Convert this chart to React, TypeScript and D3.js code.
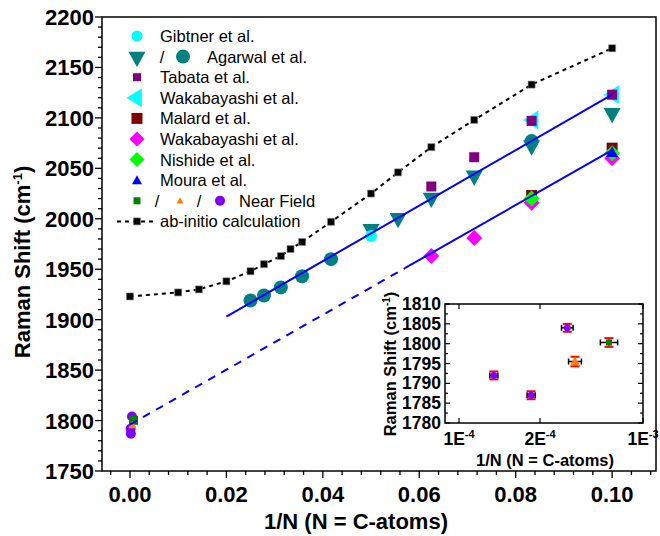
import React from 'react';
import * as d3 from 'd3';

const W = 660;
const H = 536;
const FONT = '"Liberation Sans", Arial, sans-serif';

// ab-initio calculation
const abX = [0, 0.01, 0.0143, 0.02, 0.025, 0.0278, 0.0313, 0.0333, 0.0357, 0.0417, 0.05, 0.0556, 0.0625, 0.0714, 0.0833, 0.1];
const abY = [1923, 1927, 1930, 1938, 1948, 1955, 1963, 1970, 1977, 1997, 2025, 2046, 2071, 2098, 2133, 2169];

// Agarwal et al. (circles / inverted triangles)
const agCircX = [0.025, 0.0278, 0.0313, 0.0357, 0.0417, 0.0833];
const agCircY = [1919, 1924, 1932, 1943, 1960, 2077];
const agTriX = [0.05, 0.0556, 0.0625, 0.0714, 0.0833, 0.1];
const agTriY = [1988, 1999, 2019, 2041, 2071, 2103];

const gibX = [0.05];
const gibY = [1983];
const tabX = [0.0625, 0.0714, 0.0833, 0.1];
const tabY = [2032, 2061, 2097, 2123];
const wakCyX = [0.0833, 0.1];
const wakCyY = [2098, 2123];
const malX = [0.0833, 0.1];
const malY = [2023, 2070];
const wakMgX = [0.0625, 0.0714, 0.0833, 0.1];
const wakMgY = [1963, 1981, 2016, 2060];
const nisX = [0.0833, 0.1];
const nisY = [2020, 2065];
const mouX = [0.1];
const mouY = [2066];

// Near Field
const nfCircX = [1.43e-4, 1.89e-4, 4.12e-4];
const nfCircY = [1792, 1787, 1804];
const nfCircXErr = [5e-6, 5e-6, 4.5e-5];
const nfCircYErr = [1, 1, 1];
const nfTriX = [4.72e-4];
const nfTriY = [1795.5];
const nfTriXErr = [5e-5];
const nfTriYErr = [1.2];
const nfSqX = [7.36e-4];
const nfSqY = [1800.3];
const nfSqXErr = [6.7e-5];
const nfSqYErr = [1.1];

// linear fits
const fitUpX = [0.02, 0.1];
const fitUpY = [1903, 2123];
const fitLoX = [0.057, 0.1];
const fitLoY = [1951, 2068];
const fitLoExtX = [0, 0.057];
const fitLoExtY = [1796, 1951];

const xTicks = [0, 0.02, 0.04, 0.06, 0.08, 0.1];
const yTicks = [1750, 1800, 1850, 1900, 1950, 2000, 2050, 2100, 2150, 2200];
const insetYTicks = [1780, 1785, 1790, 1795, 1800, 1805, 1810];
const insetXTicks = [1e-4, 2e-4, 1e-3];
const insetXLabels = [['1E', '-4'], ['2E', '-4'], ['1E', '-3']];

const x = d3.scaleLinear().domain([-0.0058, 0.1091]).range([102, 656]);
const y = d3.scaleLinear().domain([1750, 2200]).range([471, 17]);
const ix = d3.scaleLinear().domain([8.27e-5, 1e-4, 2e-4, 1e-3]).range([445, 459, 540, 643]);
const iy = d3.scaleLinear().domain([1780, 1810]).range([423, 304]);

const zip = (xs: number[], ys: number[]) => xs.map((v, i) => [v, ys[i]] as [number, number]);

function shape(kind: string, s: number) {
  const h = s / 2;
  switch (kind) {
    case 'circle':
      return `M${h},0A${h},${h} 0 1,1 ${-h},0A${h},${h} 0 1,1 ${h},0Z`;
    case 'square':
      return `M${-h},${-h}H${h}V${h}H${-h}Z`;
    case 'diamond':
      return `M0,${-h}L${h},0L0,${h}L${-h},0Z`;
    case 'up':
      return `M0,${-h}L${h},${h * 0.8}L${-h},${h * 0.8}Z`;
    case 'down':
      return `M0,${h}L${h},${-h * 0.8}L${-h},${-h * 0.8}Z`;
    case 'left':
      return `M${-h},0L${h * 0.8},${-h * 1.1}L${h * 0.8},${h * 1.1}Z`;
    default:
      return '';
  }
}

function Marks({ pts, kind, size, fill, stroke, sx = x, sy = y }: any) {
  const d = shape(kind, size);
  return (
    <g>
      {pts.map(([a, b]: [number, number], i: number) => (
        <path key={i} d={d} transform={`translate(${sx(a)},${sy(b)})`} fill={fill} stroke={stroke || 'none'} strokeWidth={0.6} />
      ))}
    </g>
  );
}

function ErrBars({ xs, ys, xe, ye, sx, sy }: any) {
  return (
    <g>
      {xs.map((v: number, i: number) => {
        const cx = sx(v), cy = sy(ys[i]);
        const x0 = sx(v - xe[i]), x1 = sx(v + xe[i]);
        const y0 = sy(ys[i] - ye[i]), y1 = sy(ys[i] + ye[i]);
        return (
          <g key={i}>
            <line x1={x0} x2={x1} y1={cy} y2={cy} stroke="#000" strokeWidth={1.5} />
            <line x1={x0} x2={x0} y1={cy - 3} y2={cy + 3} stroke="#000" strokeWidth={1.5} />
            <line x1={x1} x2={x1} y1={cy - 3} y2={cy + 3} stroke="#000" strokeWidth={1.5} />
            <line x1={cx} x2={cx} y1={y0} y2={y1} stroke="#ff0000" strokeWidth={1.5} />
            <line x1={cx - 4.5} x2={cx + 4.5} y1={y0} y2={y0} stroke="#ff0000" strokeWidth={2} />
            <line x1={cx - 4.5} x2={cx + 4.5} y1={y1} y2={y1} stroke="#ff0000" strokeWidth={2} />
          </g>
        );
      })}
    </g>
  );
}

const line = d3.line<[number, number]>().x(d => x(d[0])).y(d => y(d[1]));

const legendRows = [
  'Gibtner et al.', 'Agarwal et al.', 'Tabata et al.', 'Wakabayashi et al.', 'Malard et al.',
  'Wakabayashi et al.', 'Nishide et al.', 'Moura et al.', 'Near Field', 'ab-initio calculation',
];

export default function App() {
  const lx = 137;
  const ly = (i: number) => 36 + i * 20.6;
  const tx = [160, 207, 160, 160, 160, 160, 160, 160, 239, 160];
  const tickFont = { fontFamily: FONT, fontWeight: 700, fontSize: 22 };

  return (
    <svg width={W} height={H} style={{ position: 'absolute', left: 0, top: 0, background: '#fff' }}>
      {/* ab-initio dashed line */}
      <path d={line(zip(abX, abY)) || ''} fill="none" stroke="#000" strokeWidth={2} strokeDasharray="4,4" />

      {/* markers */}
      <Marks pts={zip(agTriX, agTriY)} kind="down" size={17} fill="#008080" />
      <Marks pts={zip(agCircX, agCircY)} kind="circle" size={14} fill="#008080" />
      <Marks pts={zip(gibX, gibY)} kind="circle" size={12} fill="#00ffff" />
      <Marks pts={zip(wakCyX, wakCyY)} kind="left" size={17} fill="#00ffff" />
      <Marks pts={zip(tabX, tabY)} kind="square" size={10} fill="#800080" />
      <Marks pts={zip(malX, malY)} kind="square" size={11} fill="#800000" />
      <Marks pts={zip(wakMgX, wakMgY)} kind="diamond" size={16} fill="#ff00ff" />
      <Marks pts={zip(nisX, nisY)} kind="diamond" size={16} fill="#00ff00" />
      <Marks pts={zip(mouX, mouY)} kind="up" size={12} fill="#0000ff" />
      <Marks pts={zip(nfCircX, nfCircY)} kind="circle" size={10} fill="#8000ff" />
      <Marks pts={zip(nfSqX, nfSqY)} kind="square" size={9} fill="#008000" />
      <Marks pts={zip(nfTriX, nfTriY)} kind="up" size={8} fill="#ff8000" />
      <Marks pts={zip(abX, abY)} kind="square" size={7} fill="#000" stroke="#888" />

      {/* fits */}
      <path d={line(zip(fitUpX, fitUpY)) || ''} stroke="#0000ff" strokeWidth={2} fill="none" />
      <path d={line(zip(fitLoX, fitLoY)) || ''} stroke="#0000ff" strokeWidth={2} fill="none" />
      <path d={line(zip(fitLoExtX, fitLoExtY)) || ''} stroke="#0000ff" strokeWidth={2} fill="none" strokeDasharray="8,7" />

      {/* frame */}
      <rect x={102} y={17} width={554} height={454} fill="none" stroke="#000" strokeWidth={1.5} />

      {/* y axis ticks */}
      {d3.range(1750, 2201, 10).map(v => {
        const major = v % 50 === 0;
        return <line key={v} x1={102 - (major ? 7 : 4)} x2={102} y1={y(v)} y2={y(v)} stroke="#000" strokeWidth={1.3} />;
      })}
      {yTicks.map(v => (
        <text key={v} x={94} y={y(v) + 8} textAnchor="end" {...tickFont}>{v}</text>
      ))}

      {/* x axis ticks */}
      {d3.range(-4, 28).map(k => {
        const v = k * 0.004;
        const major = k % 5 === 0;
        if (x(v) < 102 || x(v) > 656) return null;
        return <line key={k} x1={x(v)} x2={x(v)} y1={471} y2={471 + (major ? 7 : 4)} stroke="#000" strokeWidth={1.3} />;
      })}
      {xTicks.map(v => (
        <text key={v} x={x(v)} y={502} textAnchor="middle" {...tickFont}>{v.toFixed(2)}</text>
      ))}

      {/* axis titles */}
      <text x={356} y={529} textAnchor="middle" fontFamily={FONT} fontWeight={700} fontSize={22}>1/N (N = C-atoms)</text>
      <text transform="translate(30,262) rotate(-90)" textAnchor="middle" fontFamily={FONT} fontWeight={700} fontSize={22}>
        Raman Shift (cm<tspan dy={-8} fontSize={13}>-1</tspan><tspan dy={8}>)</tspan>
      </text>

      {/* legend */}
      <g fontFamily={FONT} fontSize={16.5}>
        {legendRows.map((t, i) => (
          <text key={i} x={tx[i]} y={ly(i) + 6}>{t}</text>
        ))}
        <path d={shape('circle', 11)} transform={`translate(${lx},${ly(0)})`} fill="#00ffff" />
        <path d={shape('down', 17)} transform={`translate(${lx},${ly(1) + 2})`} fill="#008080" />
        <text x={162} y={ly(1) + 6} textAnchor="middle">/</text>
        <path d={shape('circle', 14)} transform={`translate(183,${ly(1)})`} fill="#008080" />
        <path d={shape('square', 8)} transform={`translate(${lx},${ly(2)})`} fill="#800080" />
        <path d={shape('left', 17)} transform={`translate(${lx - 2},${ly(3)})`} fill="#00ffff" />
        <path d={shape('square', 11)} transform={`translate(${lx},${ly(4)})`} fill="#800000" />
        <path d={shape('diamond', 15)} transform={`translate(${lx},${ly(5)})`} fill="#ff00ff" />
        <path d={shape('diamond', 15)} transform={`translate(${lx},${ly(6)})`} fill="#00ff00" />
        <path d={shape('up', 10)} transform={`translate(${lx},${ly(7)})`} fill="#0000ff" />
        <path d={shape('square', 7)} transform={`translate(${lx},${ly(8)})`} fill="#008000" />
        <text x={157} y={ly(8) + 6} textAnchor="middle">/</text>
        <path d={shape('up', 7)} transform={`translate(180,${ly(8)})`} fill="#ff8000" />
        <text x={199} y={ly(8) + 6} textAnchor="middle">/</text>
        <path d={shape('circle', 10)} transform={`translate(220,${ly(8)})`} fill="#8000ff" />
        <line x1={117} x2={157} y1={ly(9)} y2={ly(9)} stroke="#000" strokeWidth={2} strokeDasharray="4,4" />
        <path d={shape('square', 7)} transform={`translate(${lx},${ly(9)})`} fill="#000" stroke="#888" strokeWidth={0.6} />
      </g>

      {/* inset */}
      <rect x={445} y={304} width={198} height={119} fill="#fff" stroke="#000" strokeWidth={1.5} />
      {d3.range(1780, 1810.1, 2.5).map(v => {
        const major = v % 5 === 0;
        const l = major ? 5 : 3;
        return (
          <g key={v}>
            <line x1={445} x2={445 + l} y1={iy(v)} y2={iy(v)} stroke="#000" strokeWidth={1.2} />
            <line x1={643 - l} x2={643} y1={iy(v)} y2={iy(v)} stroke="#000" strokeWidth={1.2} />
          </g>
        );
      })}
      {insetXTicks.map(v => (
        <g key={v}>
          <line x1={ix(v)} x2={ix(v)} y1={423} y2={418} stroke="#000" strokeWidth={1.2} />
          <line x1={ix(v)} x2={ix(v)} y1={304} y2={309} stroke="#000" strokeWidth={1.2} />
        </g>
      ))}
      {insetYTicks.map(v => (
        <text key={v} x={441} y={iy(v) + 6} textAnchor="end" fontFamily={FONT} fontWeight={700} fontSize={17.5}>{v}</text>
      ))}
      {insetXTicks.map((v, i) => (
        <text key={v} x={ix(v)} y={445} textAnchor="middle" fontFamily={FONT} fontWeight={700} fontSize={17.5}>
          {insetXLabels[i][0]}<tspan dy={-7} fontSize={11}>{insetXLabels[i][1]}</tspan>
        </text>
      ))}
      <text x={545} y={466} textAnchor="middle" fontFamily={FONT} fontWeight={700} fontSize={16.5}>1/N (N = C-atoms)</text>
      <text transform="translate(396,364) rotate(-90)" textAnchor="middle" fontFamily={FONT} fontWeight={700} fontSize={16.5}>
        Raman Shift (cm<tspan dy={-6} fontSize={10}>-1</tspan><tspan dy={6}>)</tspan>
      </text>
      <ErrBars xs={nfCircX} ys={nfCircY} xe={nfCircXErr} ye={nfCircYErr} sx={ix} sy={iy} />
      <ErrBars xs={nfTriX} ys={nfTriY} xe={nfTriXErr} ye={nfTriYErr} sx={ix} sy={iy} />
      <ErrBars xs={nfSqX} ys={nfSqY} xe={nfSqXErr} ye={nfSqYErr} sx={ix} sy={iy} />
      <Marks pts={zip(nfCircX, nfCircY)} kind="circle" size={7} fill="#8000ff" sx={ix} sy={iy} />
      <Marks pts={zip(nfTriX, nfTriY)} kind="up" size={10} fill="#ff8000" sx={ix} sy={iy} />
      <Marks pts={zip(nfSqX, nfSqY)} kind="square" size={6} fill="#008000" sx={ix} sy={iy} />
    </svg>
  );
}
